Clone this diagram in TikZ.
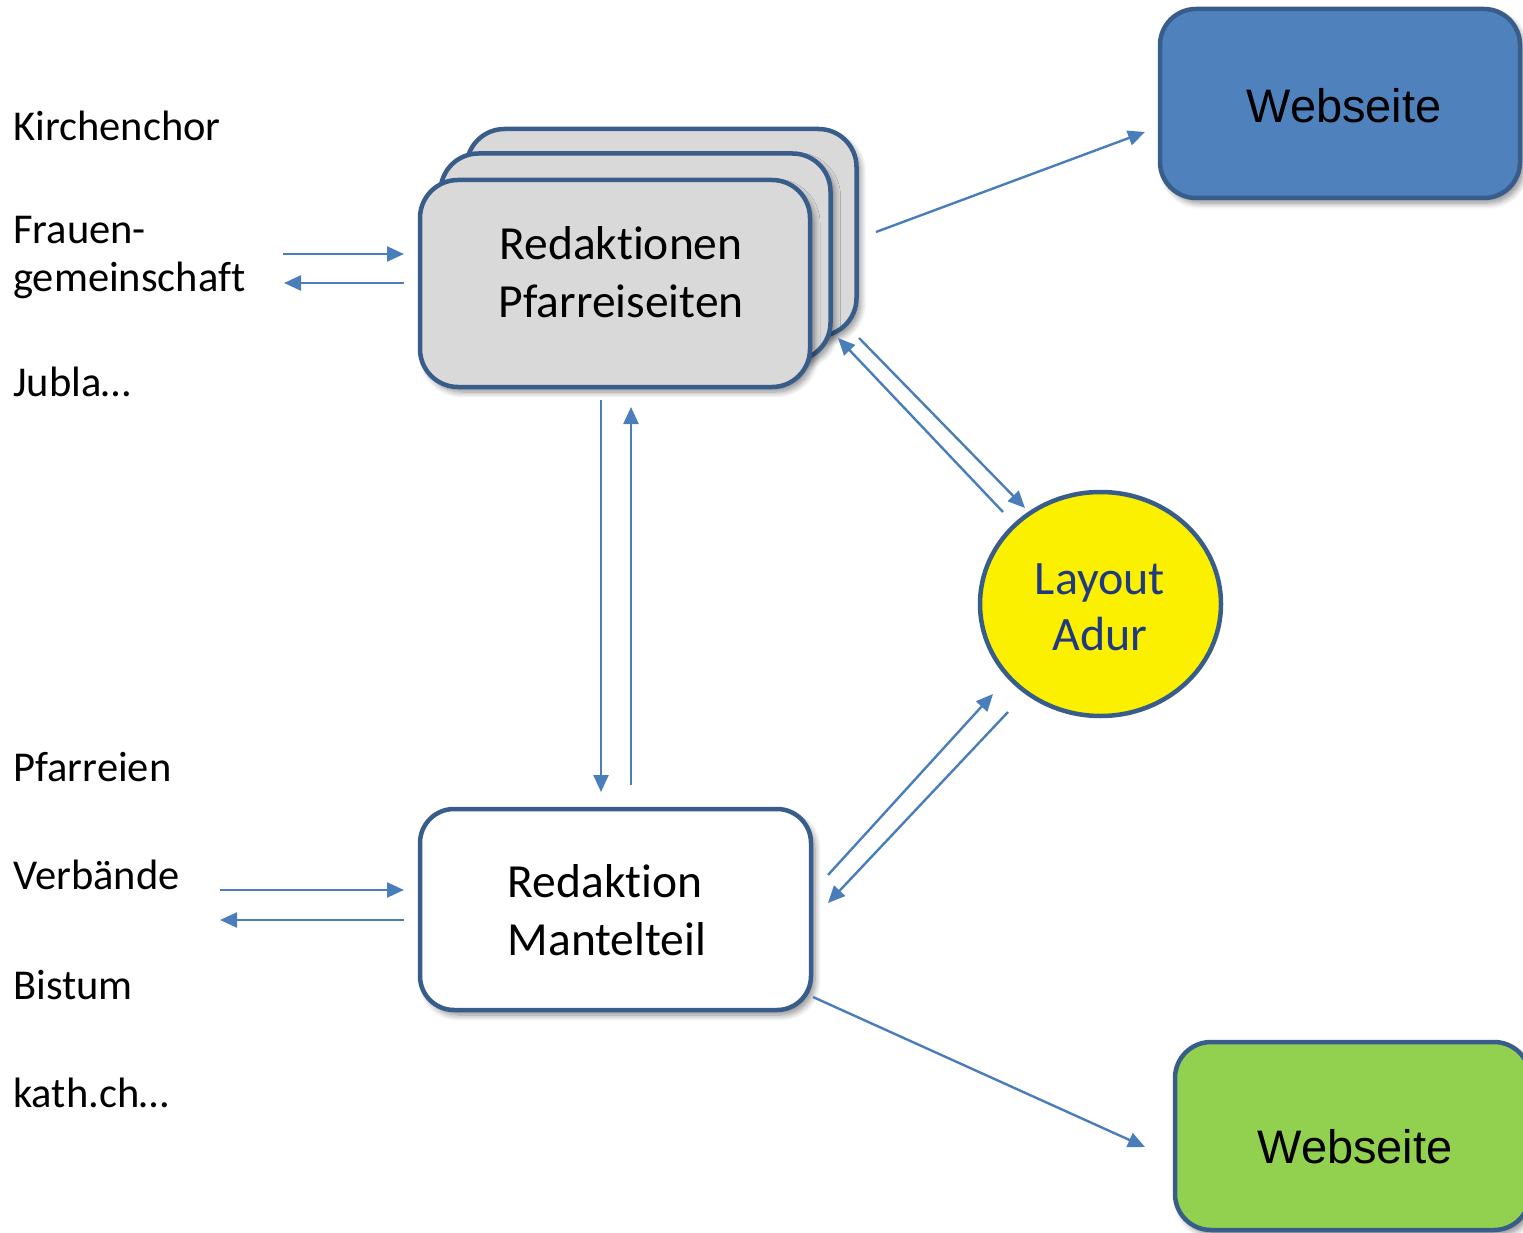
\documentclass[tikz,border=0pt]{standalone}
\usepackage{fontspec}
\setmainfont{Carlito}[Ligatures={NoCommon}]
\newfontfamily\arialf{Liberation Sans}
\usetikzlibrary{arrows.meta,shapes.geometric,shadows.blur}
\definecolor{bordc}{HTML}{385D8A}
\definecolor{arrc}{HTML}{4A7EBB}
\definecolor{grayf}{HTML}{D9D9D9}
\definecolor{bluef}{HTML}{4F81BD}
\definecolor{greenf}{HTML}{92D050}
\definecolor{yellf}{HTML}{FAF000}
\definecolor{navy}{HTML}{1F3A82}
\begin{document}
\begin{tikzpicture}[x=1pt,y=-1pt,
  shbox/.style={draw=bordc, line width=4.5pt, rounded corners=38pt,
    blur shadow={shadow xshift=4pt, shadow yshift=-5pt, shadow blur steps=8, shadow blur radius=6pt, shadow opacity=45}},
  stackbox/.style={shbox, fill=grayf, minimum width=390pt, minimum height=207pt, inner sep=0},
  con/.style={draw=arrc, line width=2.4pt, -{Triangle[length=17pt,width=15pt]}},
  lbl/.style={anchor=base west, font=\fontsize{42.5}{49}\selectfont, inner sep=0},
  boxtxt/.style={font=\fontsize{47.5}{58}\selectfont, inner sep=0},
  webtxt/.style={anchor=base, font=\arialf\fontsize{47}{56}\selectfont, inner sep=0}]
\useasboundingbox (0,0) rectangle (1523,1233);
\clip (0,0) rectangle (1523,1233);

% left labels
\node[lbl] (kirchenchor) at (13,141) {Kirchenchor};
\node[lbl] (frauen) at (13,244) {Frauen-};
\node[lbl] (gemeinschaft) at (13,292) {gemeinschaft};
\node[lbl] (jubla) at (13,396) {Jubla…};
\node[lbl] (pfarreien) at (13,781) {Pfarreien};
\node[lbl] (verbaende) at (13,889) {Verbände};
\node[lbl] (bistum) at (13,999) {Bistum};
\node[lbl] (kath) at (13,1107) {kath.ch…};

% stacked boxes
\node[stackbox] (back) at (661.5,232.5) {};
\node[stackbox] (middle) at (635.5,257) {};
\node[stackbox] (front) at (615,283.5) {};
\node[boxtxt, align=center] (frontlabel) at (621,272) {Redaktionen\\Pfarreiseiten};

% Mantelteil box
\node[shbox, fill=white, rounded corners=34pt, minimum width=391pt, minimum height=201pt, inner sep=0] (mantel) at (615.5,909.5) {};
\node[boxtxt, align=left] (mantellabel) at (607,910) {Redaktion\\Mantelteil};

% Layout circle
\node[ellipse, draw=bordc, line width=4.5pt, fill=yellf, minimum width=241pt, minimum height=224pt, inner sep=0] (layout) at (1100.5,604) {};
\node[font=\fontsize{48}{56}\selectfont, text=navy, align=center, inner sep=0] (layoutlabel) at (1100,607) {Layout\\Adur};

% Webseite boxes
\node[shbox, fill=bluef, rounded corners=36pt, minimum width=360pt, minimum height=189pt, inner sep=0] (webblue) at (1340,103.5) {};
\node[webtxt] (webbluelabel) at (1344,123) {Webseite};
\node[shbox, fill=greenf, rounded corners=36pt, minimum width=355pt, minimum height=188pt, inner sep=0] (webgreen) at (1352.5,1136) {};
\node[webtxt] (webgreenlabel) at (1355,1163) {Webseite};

% connector end points
\coordinate (a1s) at (283,254);  \coordinate (a1e) at (404,254);
\coordinate (a2s) at (404,283);  \coordinate (a2e) at (284,283);
\coordinate (v1s) at (601,400);  \coordinate (v1e) at (601,792);
\coordinate (v2s) at (631,785);  \coordinate (v2e) at (631,407);
\coordinate (w1s) at (876,232);  \coordinate (w1e) at (1145,132);
\coordinate (d1s) at (859,338);  \coordinate (d1e) at (1025,508);
\coordinate (d2s) at (1003,512); \coordinate (d2e) at (838,338);
\coordinate (d3s) at (828,875);  \coordinate (d3e) at (993,694);
\coordinate (d4s) at (1008,712); \coordinate (d4e) at (828,903);
\coordinate (w2s) at (813,997);  \coordinate (w2e) at (1145,1147);
\coordinate (b1s) at (220,890);  \coordinate (b1e) at (404,890);
\coordinate (b2s) at (404,920);  \coordinate (b2e) at (220,920);

\foreach \p in {a1,a2,v1,v2,w1,d1,d2,d3,d4,w2,b1,b2}
  \draw[con] (\p s) -- (\p e);
\end{tikzpicture}
\end{document}
